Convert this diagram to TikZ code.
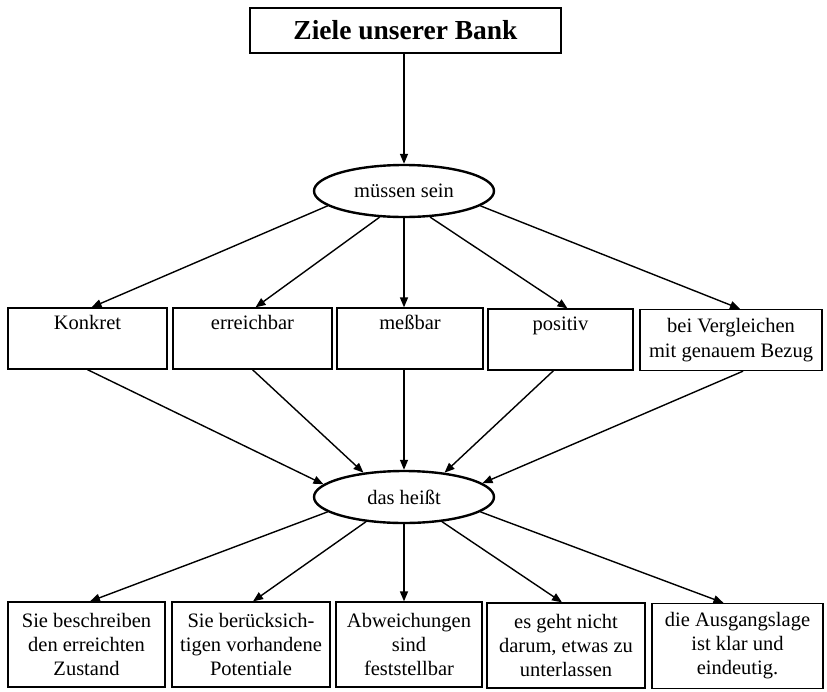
\documentclass[tikz,border=0pt]{standalone}
\usepackage{fontspec}
\setmainfont{Liberation Serif}
\usetikzlibrary{shapes.geometric,arrows.meta}
\begin{document}
\begin{tikzpicture}[x=1pt,y=-1pt,
  txt/.style={font=\fontsize{20.5}{25}\selectfont, align=center, inner sep=0pt},
  headbox/.style={draw, line width=2pt, inner sep=0pt, font=\fontsize{27.5}{30}\selectfont\bfseries},
  toprow/.style={txt, draw, line width=1.3pt, minimum height=61pt},
  botrow/.style={txt, draw, line width=1.3pt, minimum height=85pt, font=\fontsize{20.5}{24}\selectfont},
  oval/.style={txt, draw, ellipse, line width=2.4pt, minimum width=180pt, minimum height=52pt},
  conn/.style={line width=1.4pt, -{Triangle[length=10pt,width=8pt]}}]
\path[fill=white] (0,0) rectangle (827,691);
\useasboundingbox (0,0) rectangle (827,691);

% title and the two ovals
\node[headbox, minimum width=311pt, minimum height=45pt] (title) at (405.5,30.5) {Ziele unserer Bank};
\node[oval] (must) at (404,191) {müssen sein};
\node[oval] (means) at (404,497) {das heißt};

% first row: properties
\node[toprow, minimum width=159pt] (b1) at (87.5,338.5) {Konkret\\\strut};
\node[toprow, minimum width=159pt] (b2) at (252.5,338.5) {erreichbar\\\strut};
\node[toprow, minimum width=146pt] (b3) at (410,338.5) {meßbar\\\strut};
\node[toprow, minimum width=145pt] (b4) at (560.5,339.5) {positiv\\\strut};
\node[toprow, minimum width=182pt] (b5) at (731,340) {bei Vergleichen\\mit genauem Bezug};

% second row: explanations
\node[botrow, minimum width=157pt] (c1) at (86.5,644.5) {Sie beschreiben\\den erreichten\\Zustand};
\node[botrow, minimum width=158pt] (c2) at (251,644.5) {Sie berücksich-\\tigen vorhandene\\Potentiale};
\node[botrow, minimum width=146pt] (c3) at (409,644.5) {Abweichungen\\sind\\feststellbar};
\node[botrow, minimum width=158pt] (c4) at (566,645.5) {es geht nicht\\darum, etwas zu\\unterlassen};
\node[botrow, minimum width=171pt] (c5) at (737.5,646) {die Ausgangslage\\ist klar und\\eindeutig.};

% connectors
\draw[conn] (title.south -| must.north) -- (must.north);

\draw[conn] (must.191) -- ([xshift=4pt]b1.north);
\draw[conn] (must.227) -- ([xshift=3pt]b2.north);
\draw[conn] (must.south) -- (must.south |- b3.north);
\draw[conn] (must.315) -- ([xshift=7pt]b4.north);
\draw[conn] (must.349) -- ([xshift=9pt]b5.north);

\draw[conn] (b1.south) -- (means.171);
\draw[conn] (b2.south) -- (means.149);
\draw[conn] (means.north |- b3.south) -- (means.north);
\draw[conn] ([xshift=-7pt]b4.south) -- (means.31);
\draw[conn] ([xshift=12pt]b5.south) -- (means.10);

\draw[conn] (means.191) -- ([xshift=3.5pt]c1.north);
\draw[conn] (means.213) -- ([xshift=2pt]c2.north);
\draw[conn] (means.south) -- (means.south |- c3.north);
\draw[conn] (means.327) -- ([xshift=-4pt]c4.north);
\draw[conn] (means.349) -- ([xshift=-14pt]c5.north);
\end{tikzpicture}
\end{document}
